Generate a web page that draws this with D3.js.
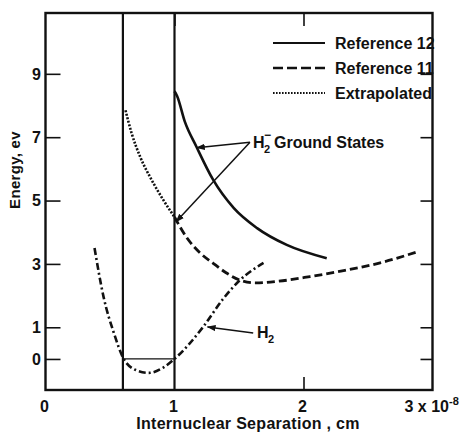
<!DOCTYPE html>
<html><head><meta charset="utf-8">
<script src="https://cdn.jsdelivr.net/npm/d3@7"></script>
<style>
html,body{margin:0;padding:0;background:#fff;}
svg{display:block;}
text{font-family:"Liberation Sans",Arial,sans-serif;font-weight:bold;fill:#111;}
</style></head>
<body>
<svg id="c" width="465" height="432"></svg>
<script>
// ---- data (x in units of 1e-8 cm, y in eV) ----
const ref12X = [1.0, 1.02, 1.08, 1.17, 1.3, 1.46, 1.64, 1.87, 2.18];
const ref12Y = [8.45, 8.3, 7.49, 6.7, 5.65, 4.76, 4.13, 3.6, 3.18];

const ref11X = [1.0, 1.1, 1.2, 1.3, 1.4, 1.5, 1.63, 1.8, 2.05, 2.3, 2.62, 2.88];
const ref11Y = [4.48, 3.8, 3.34, 3.02, 2.72, 2.5, 2.4, 2.45, 2.6, 2.78, 3.06, 3.38];

const extrapX = [0.62, 0.668, 0.733, 0.823, 0.913, 1.0];
const extrapY = [7.85, 7.12, 6.39, 5.65, 5.02, 4.48];

const h2X = [0.38, 0.45, 0.53, 0.6, 0.7, 0.8, 0.91, 1.0, 1.22, 1.37, 1.5, 1.69];
const h2Y = [3.5, 1.96, 0.82, 0.05, -0.35, -0.44, -0.28, 0.0, 1.0, 1.86, 2.46, 3.03];

const xTicks = [0, 1, 2, 3];
const xTickLabels = ["0", "1", "2", "3"];
const yTicks = [0, 1, 3, 5, 7, 9];
const yTickLabels = ["0", "1", "3", "5", "7", "9"];

const boxX = [0.6, 1.0];     // vertical bounding lines
const boxY = 0;              // horizontal line between them

const legendNames = ["Reference 12", "Reference 11", "Extrapolated"];

// annotation anchor points (data units)
const gsApex = [1.585, 6.84];
const gsTargets = [[1.172, 6.67], [1.012, 4.33]];
const h2From = [1.61, 0.82];
const h2To = [1.256, 1.01];

// ---- drawing ----
const svg = d3.select("#c");
const x = d3.scaleLinear().domain([0, 3]).range([45.5, 432.5]);
const y = d3.scaleLinear().domain([-0.98, 10.92]).range([390, 13]);
const zip = (a, b) => a.map((v, i) => [v, b[i]]);
const line = d3.line().x(d => x(d[0])).y(d => y(d[1])).curve(d3.curveMonotoneX);

// defs: arrowhead
svg.append("defs").append("marker")
  .attr("id", "ah").attr("viewBox", "0 0 10 10").attr("refX", 9).attr("refY", 5)
  .attr("markerWidth", 9).attr("markerHeight", 9).attr("markerUnits", "userSpaceOnUse")
  .attr("orient", "auto")
  .append("path").attr("d", "M0,1.5 L10,5 L0,8.5 Z").attr("fill", "#111");

const x0 = x(0), x1 = x(3), yT = y(10.92), yB = y(-0.98);

// frame
svg.append("rect").attr("x", x0).attr("y", yT).attr("width", x1 - x0).attr("height", yB - yT)
  .attr("fill", "none").attr("stroke", "#111").attr("stroke-width", 2.4);

// inward ticks via d3 axes
const gL = svg.append("g").attr("transform", `translate(${x0},0)`)
  .call(d3.axisRight(y).tickValues(yTicks).tickSize(15).tickFormat(""));
const gR = svg.append("g").attr("transform", `translate(${x1},0)`)
  .call(d3.axisLeft(y).tickValues(yTicks).tickSize(12).tickFormat(""));
const gB = svg.append("g").attr("transform", `translate(0,${yB})`)
  .call(d3.axisTop(x).tickValues([2]).tickSize(13).tickFormat(""));
const gT = svg.append("g").attr("transform", `translate(0,${yT})`)
  .call(d3.axisBottom(x).tickValues([1, 2]).tickSize(13).tickFormat(""));
[gL, gR, gB, gT].forEach(g => {
  g.select(".domain").remove();
  g.selectAll("line").attr("stroke", "#111").attr("stroke-width", 1.6);
});

// tick labels
svg.append("g").selectAll("text").data(yTicks).join("text")
  .attr("x", 41).attr("y", d => y(d)).attr("dy", "0.36em").attr("text-anchor", "end")
  .attr("font-size", 16).text((d, i) => yTickLabels[i]);
svg.append("g").selectAll("text").data(xTicks.slice(0, 3)).join("text")
  .attr("x", d => x(d) - 1).attr("y", 412).attr("text-anchor", "middle")
  .attr("font-size", 16).text((d, i) => xTickLabels[i]);
const t3 = svg.append("text").attr("x", x(3) - 28).attr("y", 412).attr("font-size", 16);
t3.append("tspan").text(xTickLabels[3] + " x 10");
t3.append("tspan").attr("dy", -7).attr("font-size", 11).text("-8");

// axis titles
svg.append("text").attr("x", 248).attr("y", 429).attr("text-anchor", "middle")
  .attr("font-size", 16).attr("letter-spacing", 0.3).text("Internuclear  Separation , cm");
svg.append("text").attr("transform", `translate(20,170) rotate(-90)`).attr("text-anchor", "middle")
  .attr("font-size", 15).attr("letter-spacing", 0.3).text("Energy, ev");

// box lines
svg.append("g").selectAll("line").data(boxX).join("line")
  .attr("x1", d => x(d)).attr("x2", d => x(d)).attr("y1", yT).attr("y2", yB)
  .attr("stroke", "#111").attr("stroke-width", 2.2);
svg.append("line").attr("x1", x(boxX[0])).attr("x2", x(boxX[1]))
  .attr("y1", y(boxY)).attr("y2", y(boxY)).attr("stroke", "#111").attr("stroke-width", 1.3);

// curves
const styles = {
  ref12: {dash: null, w: 2.6},
  ref11: {dash: "8,4", w: 2.8},
  extrap: {dash: "2,1.6", w: 2.6},
  h2: {dash: "7,3,2,3", w: 2.6}
};
const series = [
  {k: "ref12", pts: zip(ref12X, ref12Y)},
  {k: "ref11", pts: zip(ref11X, ref11Y)},
  {k: "extrap", pts: zip(extrapX, extrapY)},
  {k: "h2", pts: zip(h2X, h2Y)}
];
series.forEach(s => {
  svg.append("path").attr("d", line(s.pts)).attr("fill", "none").attr("stroke", "#111")
    .attr("stroke-width", styles[s.k].w).attr("stroke-dasharray", styles[s.k].dash);
});

// legend
const lg = svg.append("g");
const legKeys = ["ref12", "ref11", "extrap"];
legendNames.forEach((n, i) => {
  const ly = 43 + i * 25;
  lg.append("line").attr("x1", 273).attr("x2", 325).attr("y1", ly).attr("y2", ly)
    .attr("stroke", "#111").attr("stroke-width", legKeys[i] === "ref11" ? 2.6 : 2)
    .attr("stroke-dasharray", legKeys[i] === "ref11" ? "10,4" : (legKeys[i] === "extrap" ? "1.6,1.4" : null));
  lg.append("text").attr("x", 335).attr("y", ly + 6).attr("font-size", 16).text(n);
});

// annotations
gsTargets.forEach(t => {
  svg.append("line").attr("x1", x(gsApex[0])).attr("y1", y(gsApex[1]))
    .attr("x2", x(t[0])).attr("y2", y(t[1])).attr("stroke", "#111").attr("stroke-width", 1.5)
    .attr("marker-end", "url(#ah)");
});
svg.append("text").attr("x", 253).attr("y", 148).attr("font-size", 16).text("H");
svg.append("text").attr("x", 264).attr("y", 153).attr("font-size", 11).text("2");
svg.append("text").attr("x", 264).attr("y", 139).attr("font-size", 12).text("−");
svg.append("text").attr("x", 274).attr("y", 148).attr("font-size", 16).text("Ground States");

svg.append("line").attr("x1", x(h2From[0])).attr("y1", y(h2From[1]))
  .attr("x2", x(h2To[0])).attr("y2", y(h2To[1])).attr("stroke", "#111").attr("stroke-width", 1.5)
  .attr("marker-end", "url(#ah)");
svg.append("text").attr("x", 257).attr("y", 338).attr("font-size", 16).text("H");
svg.append("text").attr("x", 268).attr("y", 343).attr("font-size", 11).text("2");
</script>
</body></html>
